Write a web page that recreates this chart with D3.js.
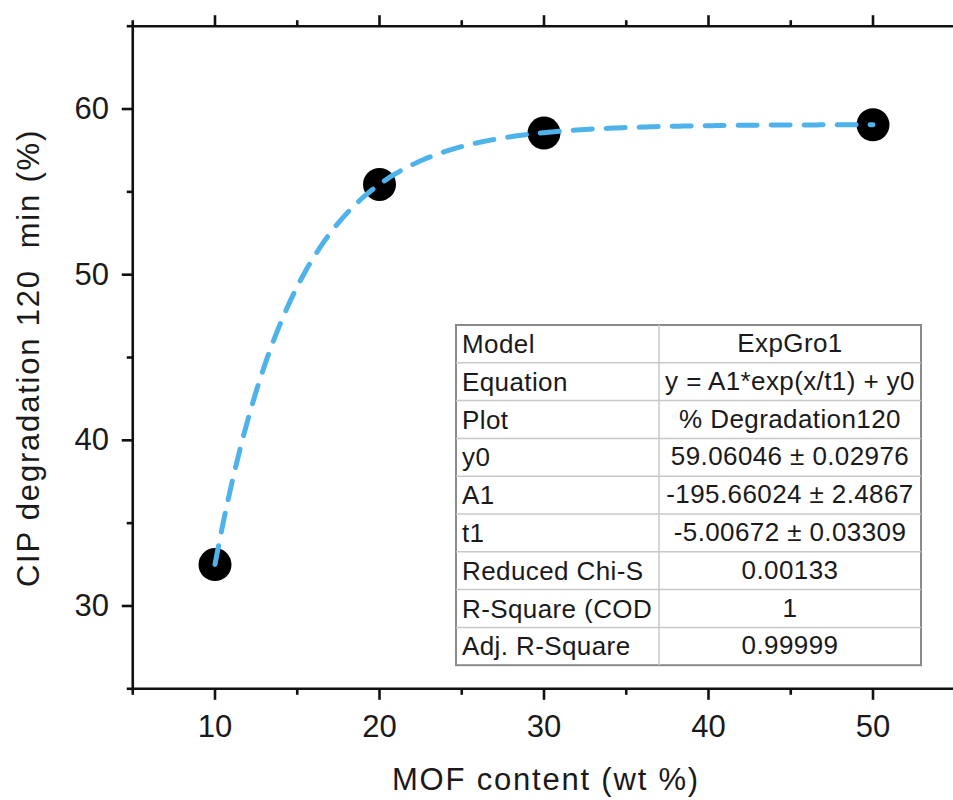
<!DOCTYPE html>
<html>
<head>
<meta charset="utf-8">
<script src="https://d3js.org/d3.v7.min.js"></script>
<style>
  body { margin: 0; background: #fff; }
  text { font-family: "Liberation Sans", Arial, sans-serif; fill: #1a1a1a; }
</style>
</head>
<body>
<div id="chart"></div>
<script>
// data points
const mofContent = [10, 20, 30, 50];
const degradation = [32.5, 55.45, 58.55, 59.05];

// fit parameters shown in the table (ExpGro1)
const fitParams = { y0: 59.06046, A1: -195.66024, t1: -5.00672 };
const fitRange = [10, 50];

// table rows
const tableLabels = ["Model", "Equation", "Plot", "y0", "A1", "t1", "Reduced Chi-S", "R-Square (COD", "Adj. R-Square"];
const tableValues = ["ExpGro1", "y = A1*exp(x/t1) + y0", "% Degradation120", "59.06046 \u00b1 0.02976",
  "-195.66024 \u00b1 2.4867", "-5.00672 \u00b1 0.03309", "0.00133", "1", "0.99999"];

const xMajor = [10, 20, 30, 40, 50];
const xMinor = [5, 15, 25, 35, 45, 55];
const yMajor = [30, 40, 50, 60];
const yMinor = [25, 35, 45, 55, 65];

const W = 953, H = 800;
const svg = d3.select("#chart").append("svg").attr("width", W).attr("height", H);

const x = d3.scaleLinear().domain([5, 55]).range([132.75, 955.25]);
const y = d3.scaleLinear().domain([25, 65]).range([688.8, 26.2]);

const axisW = 2.6;
const frame = svg.append("g").attr("stroke", "#111").attr("stroke-width", axisW).attr("fill", "none");
frame.append("line").attr("x1", x(5)).attr("x2", x(55)).attr("y1", y(25)).attr("y2", y(25));
frame.append("line").attr("x1", x(5)).attr("x2", x(55)).attr("y1", y(65)).attr("y2", y(65));
frame.append("line").attr("x1", x(5)).attr("x2", x(5)).attr("y1", y(25)).attr("y2", y(65));
frame.append("line").attr("x1", x(55)).attr("x2", x(55)).attr("y1", y(25)).attr("y2", y(65));

// ticks
const majLen = 11, minLen = 6;
xMajor.forEach(v => {
  frame.append("line").attr("x1", x(v)).attr("x2", x(v)).attr("y1", y(25)).attr("y2", y(25) + majLen);
  frame.append("line").attr("x1", x(v)).attr("x2", x(v)).attr("y1", y(65)).attr("y2", y(65) - majLen);
});
xMinor.forEach(v => {
  frame.append("line").attr("x1", x(v)).attr("x2", x(v)).attr("y1", y(25)).attr("y2", y(25) + minLen);
  frame.append("line").attr("x1", x(v)).attr("x2", x(v)).attr("y1", y(65)).attr("y2", y(65) - minLen);
});
yMajor.forEach(v => {
  frame.append("line").attr("x1", x(5)).attr("x2", x(5) - majLen).attr("y1", y(v)).attr("y2", y(v));
});
yMinor.forEach(v => {
  frame.append("line").attr("x1", x(5)).attr("x2", x(5) - minLen).attr("y1", y(v)).attr("y2", y(v));
});

// tick labels
svg.append("g").selectAll("text").data(xMajor).join("text")
  .attr("x", d => x(d)).attr("y", 737)
  .attr("text-anchor", "middle").attr("font-size", 31).text(d => d);
svg.append("g").selectAll("text").data(yMajor).join("text")
  .attr("x", 109).attr("y", d => y(d) + 10)
  .attr("text-anchor", "end").attr("font-size", 31).text(d => d);

// axis titles
svg.append("text").attr("x", 546).attr("y", 790).attr("text-anchor", "middle")
  .attr("font-size", 31).attr("letter-spacing", 1.8).text("MOF content (wt %)");
svg.append("text").attr("transform", "translate(39,358) rotate(-90)").attr("text-anchor", "middle")
  .attr("font-size", 31).attr("letter-spacing", 1.8).style("white-space", "pre")
  .text("CIP degradation 120  min (%)");

// points
svg.append("g").selectAll("circle").data(mofContent).join("circle")
  .attr("cx", d => x(d)).attr("cy", (d, i) => y(degradation[i])).attr("r", 16.5)
  .attr("fill", "#000");

// fitted curve from the table's parameters
const fitX = d3.range(fitRange[0], fitRange[1] + 0.01, 0.25);
const fit = fitX.map(v => [v, fitParams.A1 * Math.exp(v / fitParams.t1) + fitParams.y0]);
svg.append("path").datum(fit)
  .attr("d", d3.line().x(d => x(d[0])).y(d => y(d[1])).curve(d3.curveMonotoneX))
  .attr("fill", "none").attr("stroke", "#4db3ea").attr("stroke-width", 5)
  .attr("stroke-linecap", "round").attr("stroke-dasharray", "19 14");

// parameter table
const tb = { left: 456, top: 325, split: 659, right: 921, rowH: 37.8 };
const tg = svg.append("g");
tg.append("rect").attr("x", tb.left).attr("y", tb.top)
  .attr("width", tb.right - tb.left).attr("height", tb.rowH * tableLabels.length)
  .attr("fill", "#fff").attr("stroke", "#8a8a8a").attr("stroke-width", 2);
tableLabels.slice(1).forEach((d, i) => {
  tg.append("line").attr("x1", tb.left).attr("x2", tb.right)
    .attr("y1", tb.top + (i + 1) * tb.rowH).attr("y2", tb.top + (i + 1) * tb.rowH)
    .attr("stroke", "#c8c8c8").attr("stroke-width", 1.5);
});
tg.append("line").attr("x1", tb.split).attr("x2", tb.split)
  .attr("y1", tb.top).attr("y2", tb.top + tb.rowH * tableLabels.length)
  .attr("stroke", "#c8c8c8").attr("stroke-width", 1.5);
tg.selectAll("text.lab").data(tableLabels).join("text").attr("class", "lab")
  .attr("x", tb.left + 6).attr("y", (d, i) => tb.top + i * tb.rowH + 28)
  .attr("font-size", 26).attr("letter-spacing", 0.4).text(d => d);
tg.selectAll("text.val").data(tableValues).join("text").attr("class", "val")
  .attr("x", (tb.split + tb.right) / 2).attr("y", (d, i) => tb.top + i * tb.rowH + 27)
  .attr("text-anchor", "middle").attr("font-size", 26).attr("letter-spacing", 0.4).text(d => d);
</script>
</body>
</html>
